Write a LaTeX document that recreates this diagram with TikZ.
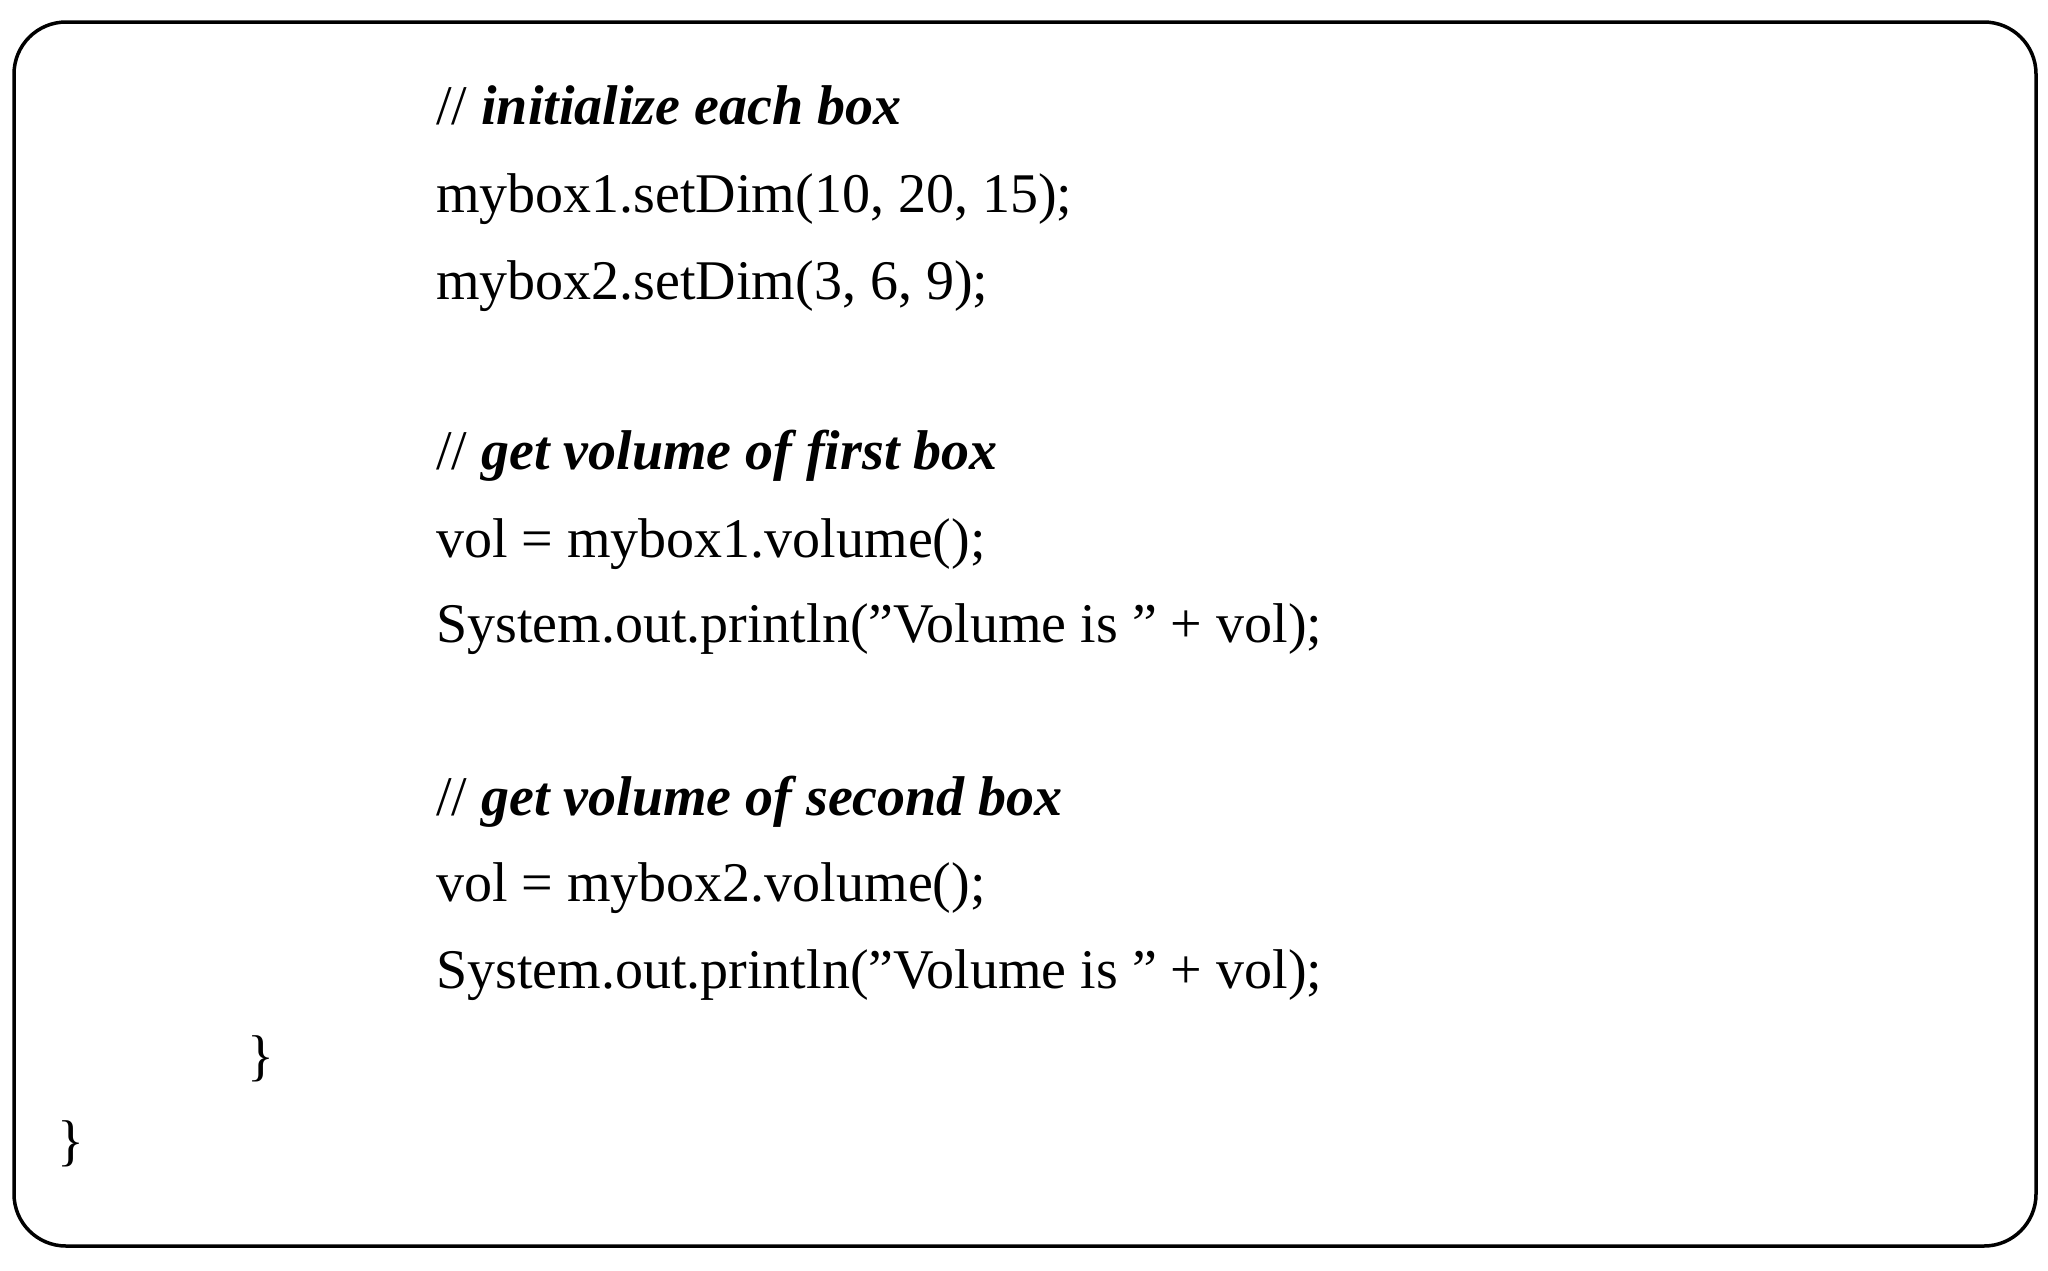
\documentclass[tikz,border=0pt]{standalone}
\usepackage{fontspec}
\setmainfont{Liberation Serif}
\begin{document}
\begin{tikzpicture}[x=1pt,y=-1pt,
  code/.style={anchor=base west,inner sep=0pt,font=\fontsize{56}{66}\selectfont},
  cmt/.style={code,font=\fontsize{56}{66}\selectfont\bfseries\itshape}]
\useasboundingbox (0,0) rectangle (2048,1270);
\draw[line width=3.5pt,rounded corners=52pt] (14,22) rectangle (2036,1246);
\node[code] (c1) at (436,124) {// \textbf{\textit{initialize each box}}};
\node[code] (l2) at (436,212) {mybox1.setDim(10, 20, 15);};
\node[code] (l3) at (436,299) {mybox2.setDim(3, 6, 9);};
\node[code] (c2) at (436,469) {// \textbf{\textit{get volume of first box}}};
\node[code] (l5) at (436,557) {vol = mybox1.volume();};
\node[code] (l6) at (436,642) {System.out.println("Volume is " + vol);};
\node[code] (c3) at (436,815) {// \textbf{\textit{get volume of second box}}};
\node[code] (l8) at (436,901) {vol = mybox2.volume();};
\node[code] (l9) at (436,988) {System.out.println("Volume is " + vol);};
\node[code] (b1) at (247,1074) {\}};
\node[code] (b2) at (57,1159) {\}};
\end{tikzpicture}
\end{document}
